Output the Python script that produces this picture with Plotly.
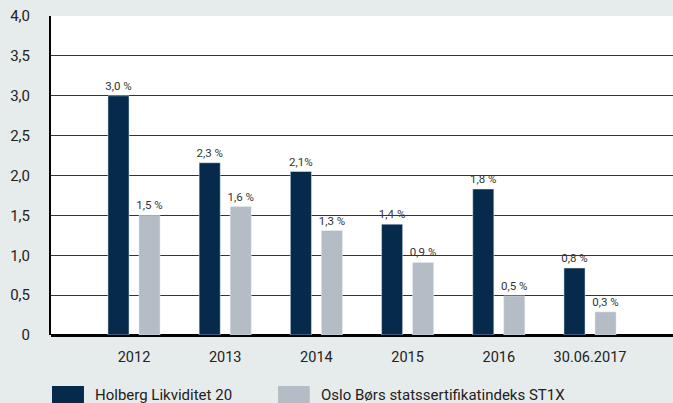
import plotly.graph_objects as go

categories = ["2012", "2013", "2014", "2015", "2016", "30.06.2017"]
holberg = [3.0, 2.16, 2.05, 1.39, 1.83, 0.84]
st1x = [1.5, 1.61, 1.31, 0.91, 0.49, 0.29]
holberg_labels = ["3,0 %", "2,3 %", "2,1%", "1,4 %", "1,8 %", "0,8 %"]
st1x_labels = ["1,5 %", "1,6 %", "1,3 %", "0,9 %", "0,5 %", "0,3 %"]
series_names = ["Holberg Likviditet 20", "Oslo Børs statssertifikatindeks ST1X"]
y_ticks = [0, 0.5, 1.0, 1.5, 2.0, 2.5, 3.0, 3.5, 4.0]
y_tick_labels = ["0", "0,5", "1,0", "1,5", "2,0", "2,5", "3,0", "3,5", "4,0"]

DARK = "#052a4b"
GRAY = "#b4bdc6"
BG = "#e6ebeb"
FONT = "Roboto, sans-serif"

fig = go.Figure()
fig.add_bar(x=categories, y=holberg, name=series_names[0], marker_color=DARK,
            text=holberg_labels, textposition="outside", cliponaxis=False,
            constraintext="none",
            textfont=dict(size=11.5, color="#333333", family=FONT), showlegend=False)
fig.add_bar(x=categories, y=st1x, name=series_names[1], marker_color=GRAY,
            text=st1x_labels, textposition="outside", cliponaxis=False,
            constraintext="none",
            textfont=dict(size=11.5, color="#333333", family=FONT), showlegend=False)

# custom legend (wide keys as in the reference)
legend_keys = [(0.0016, 0.053, 0.068, DARK), (0.365, 0.416, 0.431, GRAY)]
for (x0, x1, xt, col), name in zip(legend_keys, series_names):
    fig.add_shape(type="rect", xref="paper", yref="paper", x0=x0, x1=x1,
                  y0=-0.225, y1=-0.16, fillcolor=col, line_width=0)
    fig.add_annotation(xref="paper", yref="paper", x=xt, y=-0.188, text=name,
                       showarrow=False, xanchor="left", yanchor="middle",
                       font=dict(size=15, color="#222222", family=FONT))

fig.update_layout(
    width=673, height=403,
    margin=dict(l=51, r=0, t=16, b=68),
    paper_bgcolor=BG, plot_bgcolor="white",
    barmode="group", bargap=0.32, bargroupgap=0.32,
    font=dict(family=FONT, color="#222222", size=14),
)
fig.update_xaxes(type="category", range=[-0.91, 5.91], showgrid=False,
                 showline=False, ticks="", tickfont=dict(size=14.5),
                 ticklabelstandoff=11)
fig.update_yaxes(range=[0, 4.0], tickvals=y_ticks, ticktext=y_tick_labels,
                 showgrid=True, gridcolor="#333333", gridwidth=1,
                 showline=True, linecolor="black", linewidth=2,
                 zeroline=True, zerolinecolor="black", zerolinewidth=3,
                 ticks="", tickfont=dict(size=15), ticklabelstandoff=16)

fig.write_html("out.html", config={"displayModeBar": False},
               post_script="document.body.style.margin='0';document.body.style.overflow='hidden';")
